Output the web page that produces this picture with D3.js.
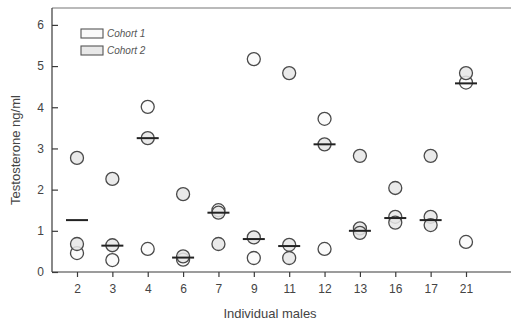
<!DOCTYPE html>
<html><head><meta charset="utf-8">
<script src="https://cdn.jsdelivr.net/npm/d3@7"></script>
<style>body{margin:0;background:#fff}svg{display:block}</style>
</head><body>
<script>
const males = ["2","3","4","6","7","9","11","12","13","16","17","21"];
const yTicks = [0,1,2,3,4,5,6];
// open circles
const cohort1 = [
  {male:"2",v:0.46},{male:"3",v:0.29},{male:"4",v:4.01},{male:"4",v:0.56},
  {male:"6",v:0.30},{male:"7",v:1.50},{male:"9",v:5.17},{male:"9",v:0.34},
  {male:"12",v:3.72},{male:"12",v:0.56},{male:"21",v:4.60},{male:"21",v:0.73}
];
// shaded circles
const cohort2 = [
  {male:"2",v:2.77},{male:"2",v:0.68},{male:"3",v:2.26},{male:"3",v:0.65},
  {male:"4",v:3.25},{male:"6",v:1.89},{male:"6",v:0.38},{male:"7",v:1.44},
  {male:"7",v:0.68},{male:"9",v:0.84},{male:"11",v:4.83},{male:"11",v:0.66},
  {male:"11",v:0.34},{male:"12",v:3.10},{male:"13",v:2.82},{male:"13",v:1.06},
  {male:"13",v:0.95},{male:"16",v:2.04},{male:"16",v:1.34},{male:"16",v:1.20},
  {male:"17",v:2.82},{male:"17",v:1.34},{male:"17",v:1.14},{male:"21",v:4.83}
];
// horizontal dashes (means)
const means = [1.26,0.64,3.25,0.35,1.44,0.80,0.63,3.10,1.00,1.31,1.26,4.58];

const W=512,H=325;
const svg=d3.select("body").append("svg").attr("width",W).attr("height",H);
const L=52,R=511,T=8,B=272;
const x=d3.scalePoint().domain(males).range([77,466]);
const y=d3.scaleLinear().domain([0,6.41]).range([B,T]);
const col="#3a3a3a", txt="#444";

// frame top
svg.append("line").attr("x1",L).attr("x2",R).attr("y1",T).attr("y2",T).attr("stroke","#777").attr("stroke-width",1.2);

const gy=svg.append("g").attr("transform",`translate(${L},0)`)
  .call(d3.axisLeft(y).tickValues(yTicks).tickFormat(d3.format("d")).tickSizeInner(-6).tickSizeOuter(0).tickPadding(8));
gy.select(".domain").attr("d",`M0,${T}V${B}`);
const gx=svg.append("g").attr("transform",`translate(0,${B})`)
  .call(d3.axisBottom(x).tickSize(5).tickSizeOuter(0).tickPadding(7));
gx.select(".domain").attr("d",`M${L},0H${R}`);
[gx,gy].forEach(g=>{
  g.selectAll(".domain,line").attr("stroke",col).attr("stroke-width",1.2);
  g.selectAll("text").attr("fill",txt).attr("font-family","Liberation Sans, Arial, sans-serif").attr("font-size",12);
});

const r=6.5;
svg.append("g").selectAll("circle").data(cohort1).join("circle")
  .attr("cx",d=>x(d.male)).attr("cy",d=>y(d.v)).attr("r",r)
  .attr("fill","#fbfbfb").attr("stroke","#4a4a4a").attr("stroke-width",1.3);
svg.append("g").selectAll("circle").data(cohort2).join("circle")
  .attr("cx",d=>x(d.male)).attr("cy",d=>y(d.v)).attr("r",r)
  .attr("fill","#e6e6e6").attr("stroke","#4a4a4a").attr("stroke-width",1.3).attr("fill-opacity",0.85);
svg.append("g").selectAll("line").data(means).join("line")
  .attr("x1",(d,i)=>x(males[i])-11).attr("x2",(d,i)=>x(males[i])+11)
  .attr("y1",d=>y(d)).attr("y2",d=>y(d)).attr("stroke","#222").attr("stroke-width",2);

// legend
const lg=svg.append("g");
[["Cohort 1","#fafafa"],["Cohort 2","#e8e8e8"]].forEach((d,i)=>{
  lg.append("rect").attr("x",81).attr("y",29+i*17).attr("width",22).attr("height",9)
    .attr("fill",d[1]).attr("stroke","#555").attr("stroke-width",1.1);
  lg.append("text").attr("x",107).attr("y",37+i*17).text(d[0])
    .attr("font-family","Liberation Sans, Arial, sans-serif").attr("font-style","italic")
    .attr("font-size",10).attr("fill","#555");
});

svg.append("text").attr("x",270).attr("y",318).attr("text-anchor","middle")
  .attr("font-family","Liberation Sans, Arial, sans-serif").attr("font-size",13).attr("fill",txt).text("Individual males");
svg.append("text").attr("transform","translate(20,150) rotate(-90)").attr("text-anchor","middle")
  .attr("font-family","Liberation Sans, Arial, sans-serif").attr("font-size",13).attr("fill",txt).text("Testosterone ng/ml");
</script>
</body></html>
